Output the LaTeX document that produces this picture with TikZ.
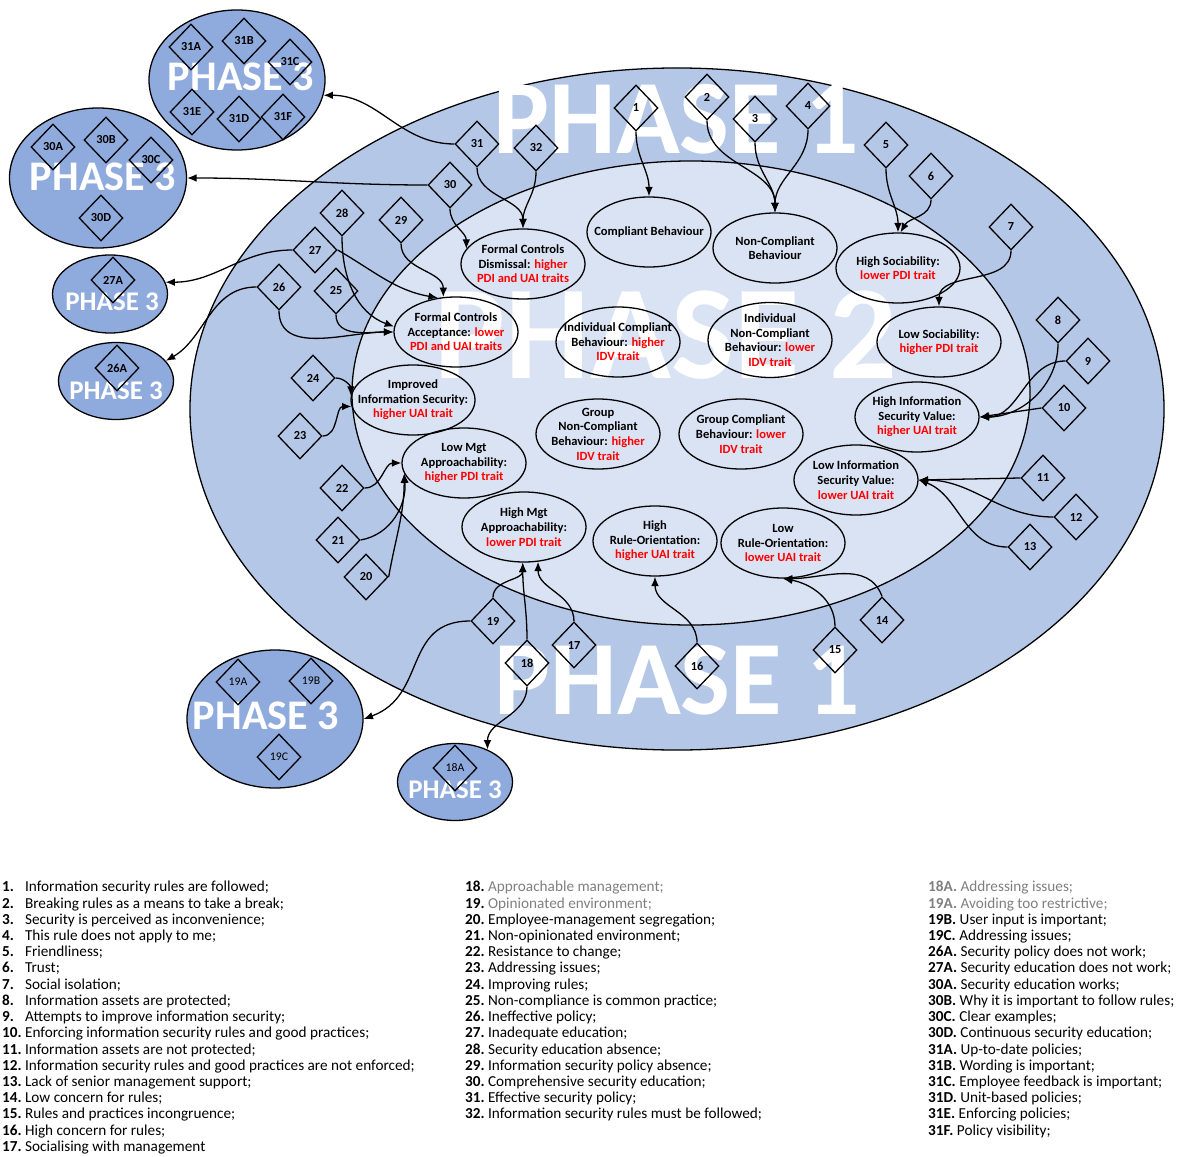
\documentclass[tikz,border=0pt]{standalone}
\usepackage{fontspec}
\setmainfont{Carlito}
\usetikzlibrary{shapes.geometric,arrows.meta}

\definecolor{phaseone}{HTML}{B4C7E7}
\definecolor{phasetwo}{HTML}{DAE3F3}
\definecolor{phasethree}{HTML}{8FAADC}
\definecolor{trait}{HTML}{FF0000}
\definecolor{faded}{HTML}{7F7F7F}
\newcommand{\tr}[1]{\textcolor{trait}{#1}}
\newcommand{\li}[2]{\makebox[19.5pt][l]{\textbf{#1}}#2}

\begin{document}
\begin{tikzpicture}[x=0.03cm, y=-0.03cm,
    dmd/.style={diamond, draw, line width=1.1pt, minimum width=1.32cm, minimum height=1.38cm, font=\fontsize{10.5}{11}\selectfont\bfseries},
    subdmd/.style={dmd, font=\fontsize{10}{11}\selectfont},
    beh/.style={ellipse, draw, line width=1.1pt, minimum width=3.72cm, minimum height=2.1cm},
    behtxt/.style={align=center, font=\fontsize{10.7}{12.5}\selectfont\bfseries},
    grp/.style={ellipse, draw, line width=1.1pt, fill=phasethree},
    phtxt/.style={text=white, font=\fontsize{#1}{#1}\selectfont\bfseries},
    legend/.style={align=left, anchor=north west, font=\fontsize{13}{13.85}\selectfont},
    arr/.style={-{Latex[length=8pt,width=6.5pt]}, line width=1.1pt}]
    \tikzstyle{every node}+=[inner sep=0pt]
    \useasboundingbox (0,0) rectangle (1182,1157);

    % phases 1 and 2
    \draw [fill=phaseone, line width=1.1pt] (677,409) ellipse [x radius=14.61cm, y radius=10.23cm];
    \draw [fill=phasetwo, line width=1.1pt] (691,393) ellipse [x radius=10.17cm, y radius=6.96cm];
    \node [phtxt=90] (ph1-top) at (676,119) {PHASE 1};
    \node [phtxt=90] (ph1-bot) at (677,680) {PHASE 1};
    \node [phtxt=114] (ph2) at (666,335) {PHASE 2};

    % behaviours
    \node [beh, label={[behtxt]center:{Formal Controls\\Dismissal: \tr{higher}\\\tr{PDI and UAI traits}}}] (fcd) at (523,264) {};
    \node [beh, label={[behtxt]center:{Compliant Behaviour}}] (cb) at (649,232) {};
    \node [beh, label={[behtxt]center:{Non-Compliant\\Behaviour}}] (ncb) at (775,248) {};
    \node [beh, label={[behtxt]center:{High Sociability:\\\tr{lower PDI trait}}}] (hs) at (898,268) {};
    \node [beh, label={[behtxt]center:{Low Sociability:\\\tr{higher PDI trait}}}] (ls) at (939,342) {};
    \node [beh, label={[behtxt]center:{High Information\\Security Value:\\\tr{higher UAI trait}}}] (hisv) at (917,417) {};
    \node [beh, label={[behtxt]center:{Low Information\\Security Value:\\\tr{lower UAI trait}}}] (lisv) at (856,480) {};
    \node [beh, label={[behtxt]center:{Low\\Rule-Orientation:\\\tr{lower UAI trait}}}] (lro) at (783,543) {};
    \node [beh, label={[behtxt]center:{High\\Rule-Orientation:\\\tr{higher UAI trait}}}] (hro) at (655,541) {};
    \node [beh, label={[behtxt]center:{Group Compliant\\Behaviour: \tr{lower}\\\tr{IDV trait}}}] (gcb) at (741,434) {};
    \node [beh, label={[behtxt]center:{Group\\Non-Compliant\\Behaviour: \tr{higher}\\\tr{IDV trait}}}] (gncb) at (598,434) {};
    \node [beh, label={[behtxt]center:{Individual Compliant\\Behaviour: \tr{higher}\\\tr{IDV trait}}}] (icb) at (618,342) {};
    \node [beh, minimum height=2.25cm, label={[behtxt]center:{Individual\\Non-Compliant\\Behaviour: \tr{lower}\\\tr{IDV trait}}}] (incb) at (770,340) {};
    \node [beh, label={[behtxt]center:{Formal Controls\\Acceptance: \tr{lower}\\\tr{PDI and UAI traits}}}] (fca) at (456,332) {};
    \node [beh, label={[behtxt]center:{Improved\\Information Security:\\\tr{higher UAI trait}}}] (iis) at (413,400) {};
    \node [beh, label={[behtxt]center:{Low Mgt\\Approachability:\\\tr{higher PDI trait}}}] (lma) at (464,463) {};
    \node [beh, label={[behtxt]center:{High Mgt\\Approachability:\\\tr{lower PDI trait}}}] (hma) at (524,527) {};

    % phase 3 groups
    \node [grp, minimum width=5.28cm, minimum height=4.2cm] (p31) at (237,80) {};
    \node [phtxt=36] (p31-t) at (241,77) {PHASE 3};
    \node [grp, minimum width=5.31cm, minimum height=4.2cm] (p30) at (98,178) {};
    \node [phtxt=36] (p30-t) at (103,177) {PHASE 3};
    \node [grp, minimum width=3.45cm, minimum height=2.34cm] (p27) at (110,294) {};
    \node [phtxt=23] (p27-t) at (112,302) {PHASE 3};
    \node [grp, minimum width=3.45cm, minimum height=2.31cm] (p26) at (116,381) {};
    \node [phtxt=23] (p26-t) at (116,391) {PHASE 3};
    \node [grp, minimum width=5.28cm, minimum height=4.14cm] (p19) at (275,719) {};
    \node [phtxt=36] (p19-t) at (266,716) {PHASE 3};
    \node [grp, minimum width=3.45cm, minimum height=2.31cm] (p18) at (455,782) {};
    \node [phtxt=23] (p18-t) at (455,790) {PHASE 3};

    \node [dmd] (d31a) at (191,47) {31A};
    \node [dmd] (d31b) at (244,41) {31B};
    \node [dmd] (d31c) at (290,62) {31C};
    \node [dmd] (d31e) at (192,112) {31E};
    \node [dmd] (d31d) at (239,119) {31D};
    \node [dmd] (d31f) at (283,117) {31F};
    \node [dmd] (d30a) at (53,147) {30A};
    \node [dmd] (d30b) at (106,140) {30B};
    \node [dmd] (d30c) at (151,160) {30C};
    \node [dmd] (d30d) at (101,218) {30D};
    \node [dmd] (d27a) at (113,280) {27A};
    \node [dmd] (d26a) at (117,368) {26A};
    \node [subdmd] (d19a) at (238,682) {19A};
    \node [subdmd] (d19b) at (311,681) {19B};
    \node [subdmd] (d19c) at (279,757) {19C};
    \node [subdmd] (d18a) at (455,768) {18A};

    % themes
    \node [dmd] (d1) at (636,108) {1};
    \node [dmd] (d2) at (707,97) {2};
    \node [dmd] (d3) at (755,119) {3};
    \node [dmd] (d4) at (808,106) {4};
    \node [dmd] (d5) at (886,145) {5};
    \node [dmd] (d6) at (931,176) {6};
    \node [dmd] (d7) at (1011,227) {7};
    \node [dmd] (d8) at (1058,320) {8};
    \node [dmd] (d9) at (1088,361) {9};
    \node [dmd] (d10) at (1064,408) {10};
    \node [dmd] (d11) at (1043,478) {11};
    \node [dmd] (d12) at (1076,517) {12};
    \node [dmd] (d13) at (1030,547) {13};
    \node [dmd] (d14) at (882,620) {14};
    \node [dmd] (d15) at (835,650) {15};
    \node [dmd] (d16) at (697,666) {16};
    \node [dmd] (d17) at (574,645) {17};
    \node [dmd] (d18) at (527,663) {18};
    \node [dmd] (d19) at (493,621) {19};
    \node [dmd] (d20) at (366,577) {20};
    \node [dmd] (d21) at (338,540) {21};
    \node [dmd] (d22) at (342,488) {22};
    \node [dmd] (d23) at (300,436) {23};
    \node [dmd] (d24) at (313,378) {24};
    \node [dmd] (d25) at (336,291) {25};
    \node [dmd] (d26) at (279,287) {26};
    \node [dmd] (d27) at (315,250) {27};
    \node [dmd] (d28) at (342,213) {28};
    \node [dmd] (d29) at (401,220) {29};
    \node [dmd] (d30) at (450,185) {30};
    \node [dmd] (d31) at (477,144) {31};
    \node [dmd] (d32) at (536,148) {32};

    % arrows
    \draw [arr] (d1.south) to[out=-90,in=90] (cb.north);
    \draw [arr] (d2.south) to[out=-90,in=90] (ncb.north);
    \draw [arr] (d3.south) to[out=-90,in=90] (ncb.north);
    \draw [arr] (d4.south) to[out=-90,in=90] (ncb.north);
    \draw [arr] (d5.south) to[out=-90,in=90] (hs.north);
    \draw [arr] (d6.south) to[out=-90,in=60] (hs.86);
    \draw [arr] (d7.south) to[out=-90,in=90] (ls.north);
    \draw [arr] (d8.south) to[out=-90,in=0] (hisv.east);
    \draw [arr] (d9.west) to[out=180,in=0] (hisv.east);
    \draw [arr] (d10.west) -- (hisv.east);
    \draw [arr] (d11.west) -- (lisv.east);
    \draw [arr] (d12.west) to[out=180,in=0] (lisv.east);
    \draw [arr] (d13.west) to[out=180,in=-20] (lisv.east);
    \draw [arr] (d14.north) to[out=110,in=0] (lro.south);
    \draw [arr] (d15.north) to[out=90,in=-10] (lro.south);
    \draw [arr] (d16.north) to[out=90,in=-90] (hro.south);
    \draw [arr] (d17.north) to[out=90,in=-90] (hma.-68);
    \draw [arr] (d18.north) to[out=90,in=-90] (hma.-92);
    \draw [arr] (d19.north) to[out=90,in=-90] (hma.-92);
    \draw [arr] (d18.south) to[out=-90,in=90] (p18.45);
    \draw [arr] (d19.west) to[out=180,in=20,looseness=1.2] (p19.east);
    \draw [arr] (d20.east) to[out=80,in=-90] (lma.190);
    \draw [arr] (d21.east) to[out=10,in=-85] (lma.190);
    \draw [arr] (d22.east) to[out=0,in=180] (lma.west);
    \draw [arr] (d23.east) to[out=0,in=180] (iis.186);
    \draw [arr] (d24.east) to[out=0,in=90] (iis.176);
    \draw [arr] (d25.south) to[out=-90,in=180] (fca.west);
    \draw [arr] (d26.south) to[out=-90,in=180] (fca.west);
    \draw [arr] (d28.south) to[out=-90,in=160] (fca.175);
    \draw [arr] (d27.east) to[out=-30,in=170] (fca.118);
    \draw [arr] (d29.south) to[out=-90,in=90] (fca.110);
    \draw [arr] (d27.west) to[out=180,in=0] (p27.12);
    \draw [arr] (d26.west) to[out=180,in=30] (p26.22);
    \draw [arr] (d30.south) to[out=-90,in=90] (fcd.165);
    \draw [arr] (d30.west) to[out=180,in=0] (p30.east);
    \draw [arr] (d31.south) to[out=-90,in=90] (fcd.north);
    \draw [arr] (d32.south) to[out=-90,in=90] (fcd.north);
    \draw [arr] (d31.west) to[out=180,in=0] (p31.-10);

    % key
    \node [legend] (key-a) at (2,881) {%
      \li{1.}{Information security rules are followed;}\\
      \li{2.}{Breaking rules as a means to take a break;}\\
      \li{3.}{Security is perceived as inconvenience;}\\
      \li{4.}{This rule does not apply to me;}\\
      \li{5.}{Friendliness;}\\
      \li{6.}{Trust;}\\
      \li{7.}{Social isolation;}\\
      \li{8.}{Information assets are protected;}\\
      \li{9.}{Attempts to improve information security;}\\
      \li{10.}{Enforcing information security rules and good practices;}\\
      \li{11.}{Information assets are not protected;}\\
      \li{12.}{Information security rules and good practices are not enforced;}\\
      \li{13.}{Lack of senior management support;}\\
      \li{14.}{Low concern for rules;}\\
      \li{15.}{Rules and practices incongruence;}\\
      \li{16.}{High concern for rules;}\\
      \li{17.}{Socialising with management}};
    \node [legend] (key-b) at (465,881) {%
      \li{18.}{\textcolor{faded}{Approachable management;}}\\
      \li{19.}{\textcolor{faded}{Opinionated environment;}}\\
      \li{20.}{Employee-management segregation;}\\
      \li{21.}{Non-opinionated environment;}\\
      \li{22.}{Resistance to change;}\\
      \li{23.}{Addressing issues;}\\
      \li{24.}{Improving rules;}\\
      \li{25.}{Non-compliance is common practice;}\\
      \li{26.}{Ineffective policy;}\\
      \li{27.}{Inadequate education;}\\
      \li{28.}{Security education absence;}\\
      \li{29.}{Information security policy absence;}\\
      \li{30.}{Comprehensive security education;}\\
      \li{31.}{Effective security policy;}\\
      \li{32.}{Information security rules must be followed;}};
    \node [legend] (key-c) at (928,881) {%
      \textcolor{faded}{\textbf{18A.} Addressing issues;}\\
      \textcolor{faded}{\textbf{19A.} Avoiding too restrictive;}\\
      \textbf{19B.} User input is important;\\
      \textbf{19C.} Addressing issues;\\
      \textbf{26A.} Security policy does not work;\\
      \textbf{27A.} Security education does not work;\\
      \textbf{30A.} Security education works;\\
      \textbf{30B.} Why it is important to follow rules;\\
      \textbf{30C.} Clear examples;\\
      \textbf{30D.} Continuous security education;\\
      \textbf{31A.} Up-to-date policies;\\
      \textbf{31B.} Wording is important;\\
      \textbf{31C.} Employee feedback is important;\\
      \textbf{31D.} Unit-based policies;\\
      \textbf{31E.} Enforcing policies;\\
      \textbf{31F.} Policy visibility;};
\end{tikzpicture}
\end{document}
